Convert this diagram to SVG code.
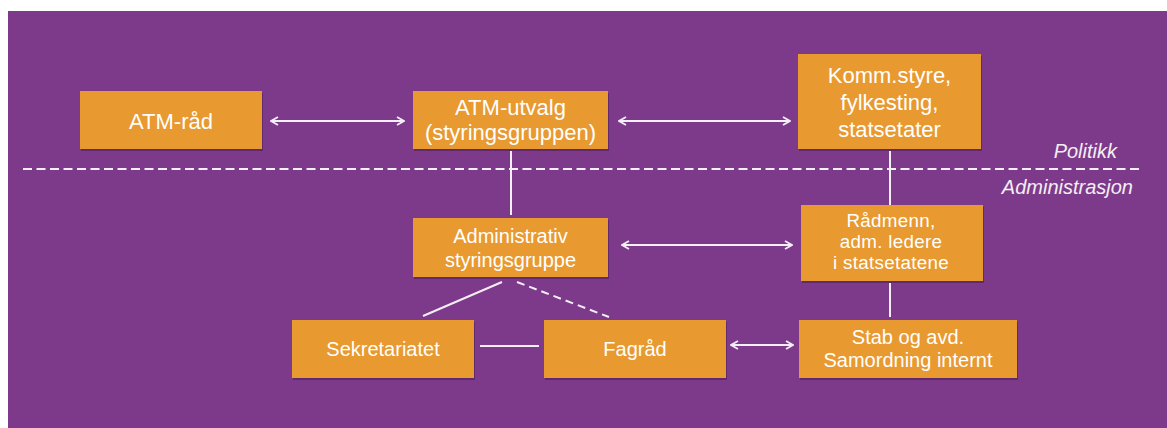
<svg xmlns="http://www.w3.org/2000/svg" width="1167" height="428" viewBox="0 0 1167 428">
<style>
.box{fill:#E8992F}
.shadow{fill:#4a1c55;opacity:0.55}
.t{font-family:"Liberation Sans",Arial,sans-serif;fill:#FFFFFF;text-anchor:middle}
.big{font-size:22px}
.sm{font-size:20px}
.xs{font-size:18.8px;letter-spacing:0.3px}
.lbl{font-family:"Liberation Sans",Arial,sans-serif;fill:#F4EEF5;font-style:italic;font-size:20px;text-anchor:end}
.ln{stroke:#F4EEF5;stroke-width:2;fill:none}
.arr{marker-start:url(#ah);marker-end:url(#ah)}
</style>
<defs>
<marker id="ah" markerUnits="userSpaceOnUse" viewBox="0 0 10 10" refX="9" refY="5" markerWidth="10" markerHeight="10" orient="auto-start-reverse">
<path d="M2,1 L9,5 L2,9" fill="none" stroke="#F4EEF5" stroke-width="1.8"/>
</marker>
</defs>
<rect x="0" y="0" width="1167" height="428" fill="#FFFFFF"/>
<rect x="8" y="11" width="1159" height="417" fill="#7E3A8A"/>

<g id="connectors">
<line class="ln" x1="23" y1="169" x2="1142" y2="169" stroke-dasharray="9 4.5"/>
<line class="ln arr" x1="271" y1="121" x2="404" y2="121"/>
<line class="ln arr" x1="619" y1="121" x2="790" y2="121"/>
<line class="ln" x1="511" y1="151" x2="511" y2="215"/>
<line class="ln" x1="890" y1="151" x2="890" y2="205"/>
<line class="ln arr" x1="622" y1="245" x2="792" y2="245"/>
<line class="ln" x1="890" y1="283" x2="890" y2="317"/>
<line class="ln" x1="502" y1="282" x2="423" y2="316"/>
<line class="ln" x1="517" y1="282" x2="609" y2="317" stroke-dasharray="8 5"/>
<line class="ln" x1="480" y1="346" x2="539" y2="346"/>
<line class="ln arr" x1="731" y1="345" x2="793" y2="345"/>
</g>

<g id="atm-rad">
<rect class="shadow" x="81" y="93" width="182" height="58"/>
<rect class="box" x="80" y="91" width="182" height="58"/>
<text class="t big" x="171" y="129">ATM-råd</text>
</g>
<g id="atm-utvalg">
<rect class="shadow" x="414" y="93" width="195" height="58"/>
<rect class="box" x="413" y="91" width="195" height="58"/>
<text class="t big" x="510.5" y="115">ATM-utvalg</text>
<text class="t big" x="510.5" y="140">(styringsgruppen)</text>
</g>
<g id="komm">
<rect class="shadow" x="799" y="56" width="183" height="95"/>
<rect class="box" x="798" y="54" width="183" height="95"/>
<text class="t big" x="889.5" y="83">Komm.styre,</text>
<text class="t big" x="889.5" y="110">fylkesting,</text>
<text class="t big" x="889.5" y="137">statsetater</text>
</g>
<g id="adm-styringsgruppe">
<rect class="shadow" x="414" y="220" width="195" height="59"/>
<rect class="box" x="413" y="218" width="195" height="59"/>
<text class="t sm" x="510.5" y="243">Administrativ</text>
<text class="t sm" x="510.5" y="267">styringsgruppe</text>
</g>
<g id="radmenn">
<rect class="shadow" x="802" y="207" width="182" height="76"/>
<rect class="box" x="801" y="205" width="182" height="76"/>
<text class="t xs" x="891" y="226.5">Rådmenn,</text>
<text class="t xs" x="891" y="247.5">adm. ledere</text>
<text class="t xs" x="891" y="268.5">i statsetatene</text>
</g>
<g id="sekretariatet">
<rect class="shadow" x="293" y="322" width="182" height="58"/>
<rect class="box" x="292" y="320" width="182" height="58"/>
<text class="t sm" x="383" y="356">Sekretariatet</text>
</g>
<g id="fagrad">
<rect class="shadow" x="545" y="322" width="182" height="58"/>
<rect class="box" x="544" y="320" width="182" height="58"/>
<text class="t sm" x="635" y="356">Fagråd</text>
</g>
<g id="stab">
<rect class="shadow" x="800" y="322" width="218" height="58"/>
<rect class="box" x="799" y="320" width="218" height="58"/>
<text class="t sm" x="908" y="343.5">Stab og avd.</text>
<text class="t sm" x="908" y="366.5">Samordning internt</text>
</g>

<g id="labels">
<text class="lbl" x="1117" y="158">Politikk</text>
<text class="lbl" x="1133" y="194">Administrasjon</text>
</g>
</svg>
